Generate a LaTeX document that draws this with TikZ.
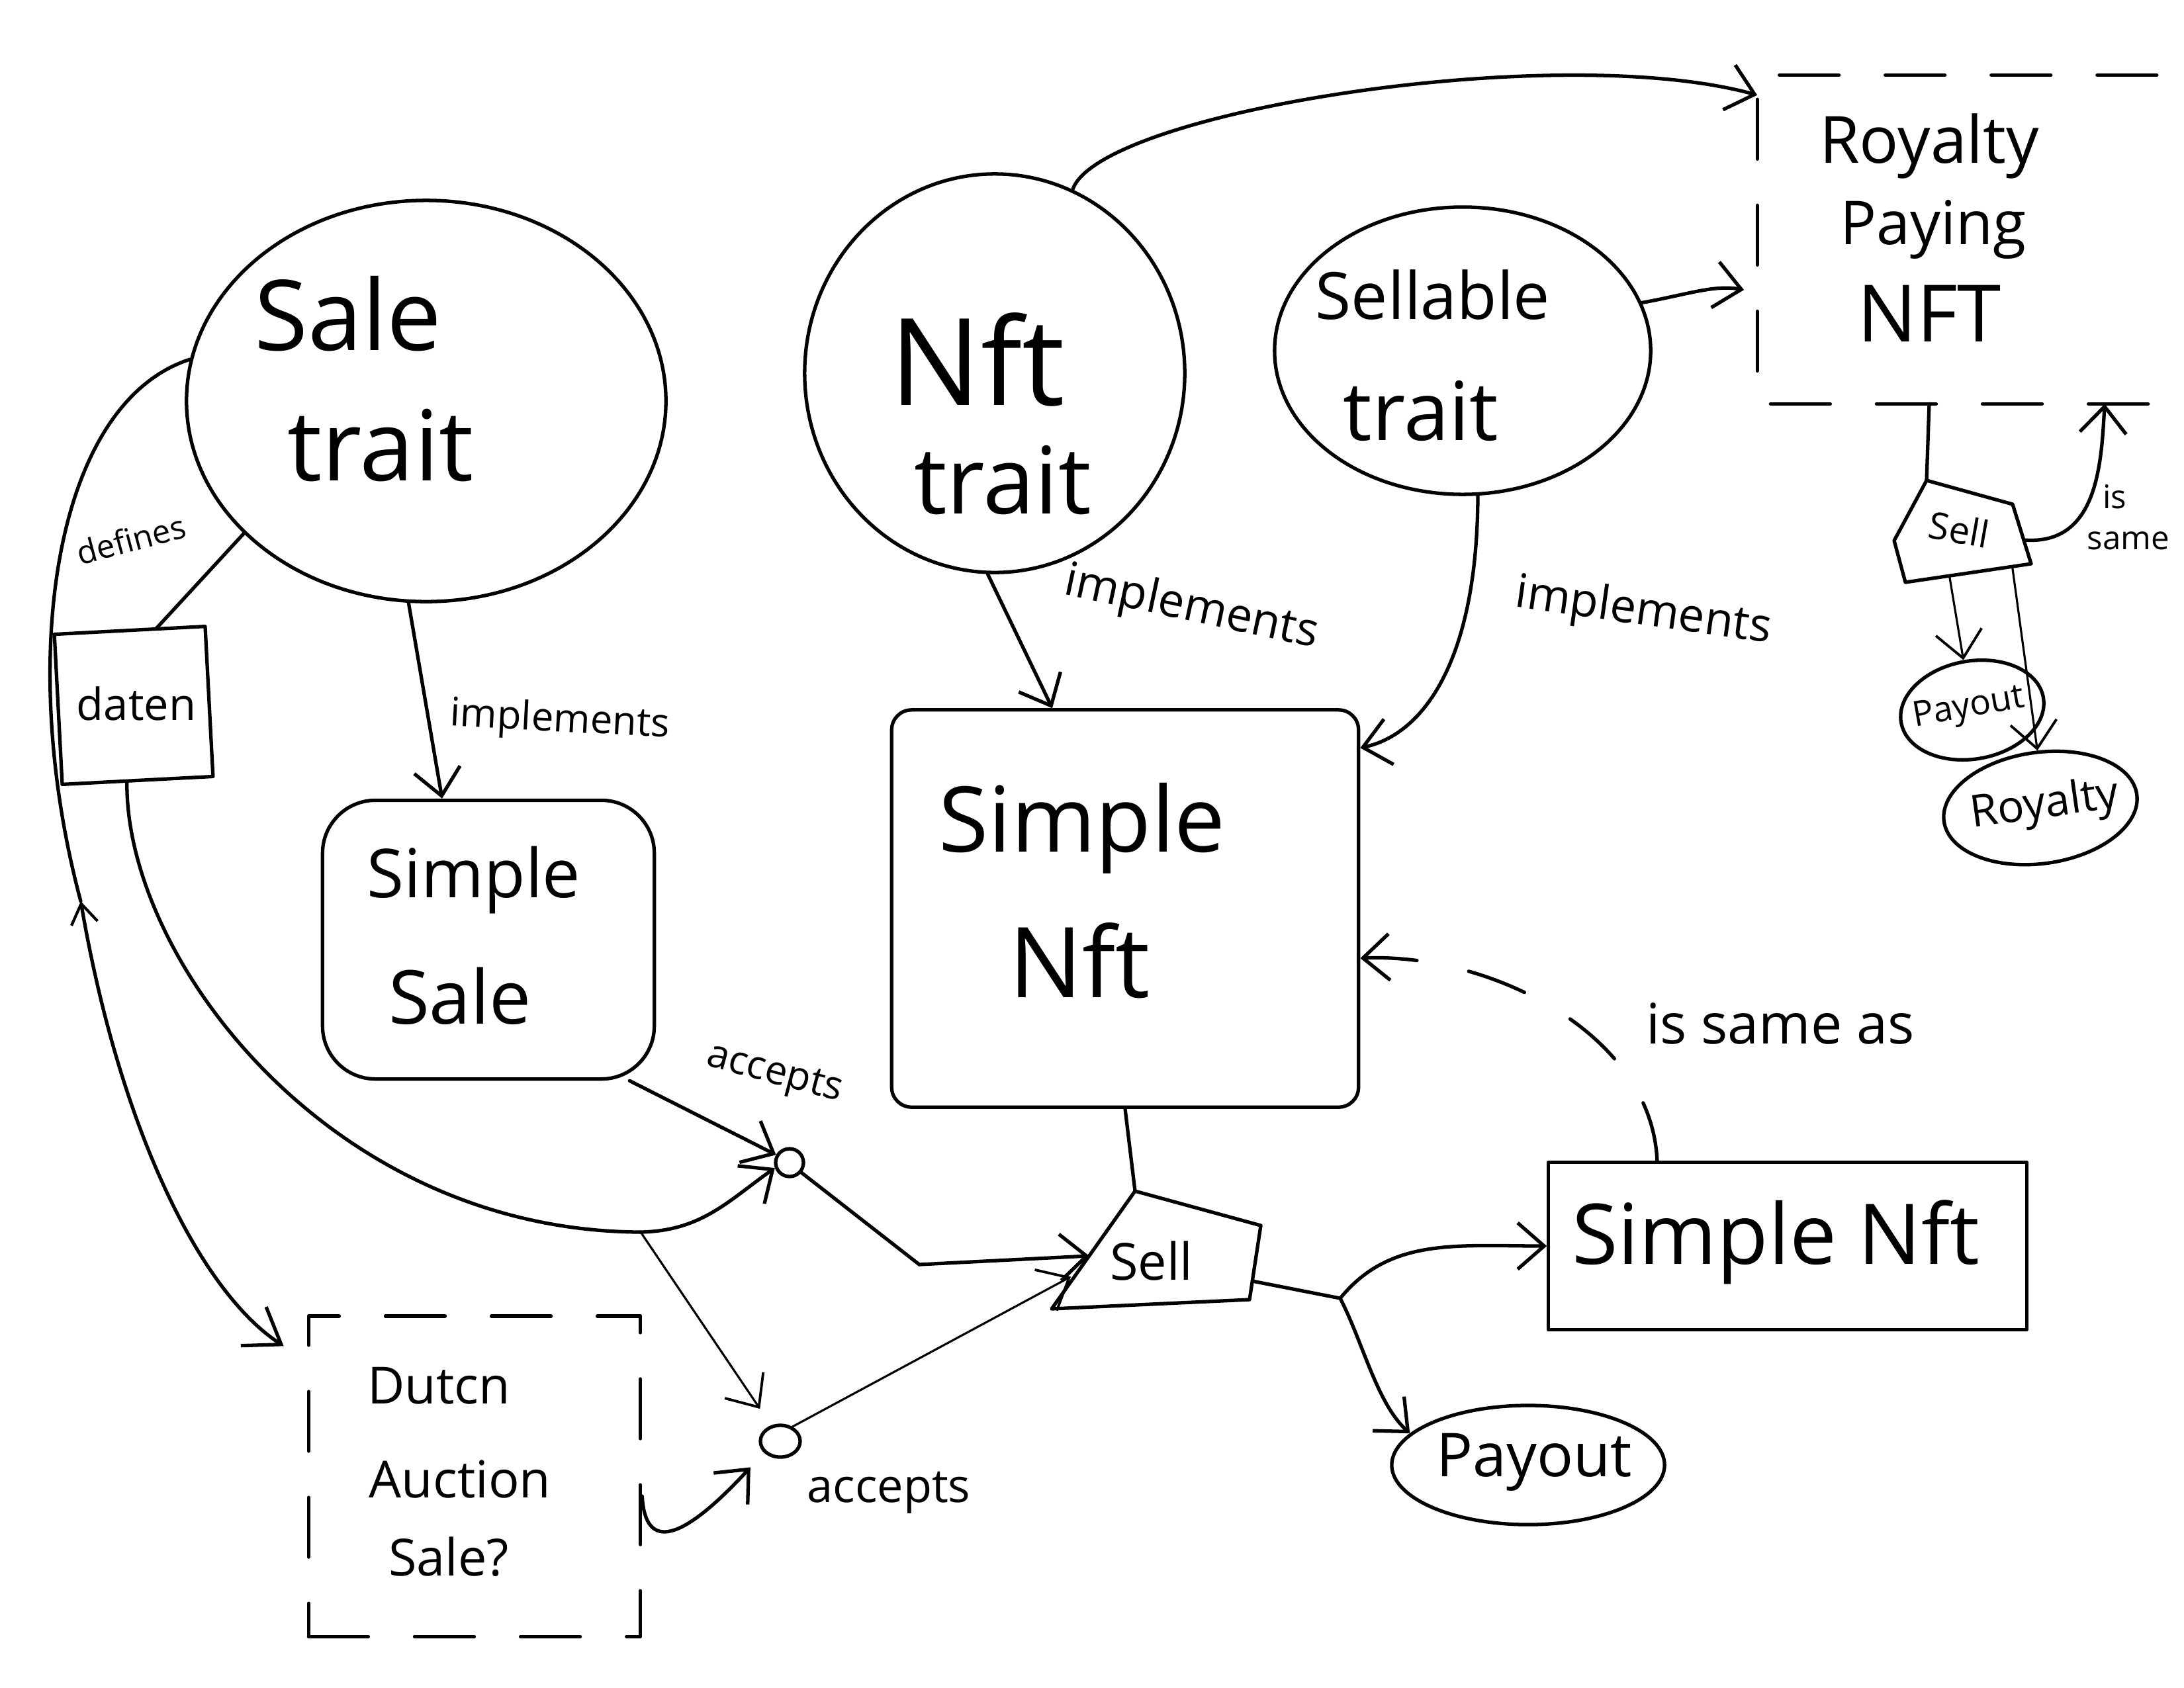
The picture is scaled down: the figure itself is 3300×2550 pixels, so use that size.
\documentclass[tikz,border=0pt]{standalone}
\usepackage{fontspec}
\setmainfont{Open Sans}
\usetikzlibrary{shapes.geometric,arrows.meta,calc}
\newcommand\myfs[1]{\fontsize{#1}{#1}\selectfont}
\tikzset{
  ln/.style={line width=1.5pt, line cap=round, line join=round},
  arr/.style={ln, -{Straight Barb[length=4mm,width=7mm,line width=1.5pt]}},
  thinarr/.style={line width=0.9pt, line cap=round, -{Straight Barb[length=4mm,width=7mm,line width=1.1pt]}},
  dsh/.style={ln, dash pattern=on 9mm off 7mm},
  blob/.style={ellipse, draw, ln, inner sep=0pt},
  box/.style={rectangle, draw, ln, inner sep=0pt},
  ghost/.style={rectangle, inner sep=0pt},
  txt/.style={inner sep=0pt, align=center}
}
\begin{document}
\begin{tikzpicture}[x=0.01cm,y=-0.01cm]
\useasboundingbox[fill=white] (0,0) rectangle (3300,2550);

% ---- main shapes ----
\node[blob, minimum width=72.4mm, minimum height=60.6mm] (saletrait) at (644,606) {};
\node[blob, minimum width=57.4mm, minimum height=60.2mm] (nfttrait) at (1503,564) {};
\node[blob, minimum width=56.8mm, minimum height=43.4mm] (sellable) at (2210,530) {};
\node[ghost, minimum width=60.2mm, minimum height=49.5mm] (rbox) at (2957,362) {};
\node[box, rotate=3, minimum width=22.8mm, minimum height=22.7mm] (chooser) at (202,1066) {};
\node[box, rounded corners=8mm, minimum width=50.1mm, minimum height=42.1mm] (simplesale) at (738,1420) {};
\node[box, rounded corners=3mm, minimum width=70.5mm, minimum height=60mm] (simplenft) at (1700,1373) {};
\node[box, minimum width=72.2mm, minimum height=25.3mm] (snft2) at (2701,1883) {};
\node[blob, minimum width=41.2mm, minimum height=18mm] (pay) at (2309,2214) {};
\node[box, dsh, minimum width=50.1mm, minimum height=48.4mm] (dutch) at (717,2231) {};
\node[circle, draw, ln, minimum size=4.2mm, inner sep=0pt] (acc1) at (1193,1757) {};
\node[ellipse, draw, ln, minimum width=6mm, minimum height=4.8mm, inner sep=0pt] (acc2) at (1179,2178) {};
\node[blob, rotate=10, minimum width=21.8mm, minimum height=14.8mm] (ps) at (2980,1073) {};
\node[blob, rotate=8, minimum width=29.4mm, minimum height=16.8mm] (rs) at (3083,1221) {};

% Royalty Paying NFT dashed (open on the right)
\draw[dsh] (rbox.north east) -- (rbox.north west) -- (rbox.south west) -- (rbox.south east);

% main Sell shape
\coordinate (s1) at (1715,1800);
\coordinate (s2) at (1905,1852);
\coordinate (s3) at (1888,1964);
\coordinate (s4) at (1589,1978);
\draw[ln] (s1) -- (s2) -- (s3) -- (s4) -- cycle;

% small Sell shape
\coordinate (ss1) at (2911,726);
\coordinate (ss2) at (3041,762);
\coordinate (ss3) at (3069,852);
\coordinate (ss4) at (2879,880);
\coordinate (ss5) at (2862,817);
\draw[ln] (ss1) -- (ss2) -- (ss3) -- (ss4) -- (ss5) -- cycle;

% ---- texts ----
\node[txt, font=\myfs{42}] (t1) at (526,474) {Sale};
\node[txt, font=\myfs{42}] (t2) at (575,673) {trait};
\node[txt, font=\myfs{52}] (t3) at (1477,543) {Nft};
\node[txt, font=\myfs{40}] (t4) at (1515,726) {trait};
\node[txt, font=\myfs{28}] (t5) at (2165,446) {Sellable};
\node[txt, font=\myfs{35}] (t6) at (2147,621) {trait};
\node[txt, font=\myfs{28}] (t7) at (2915,221) {Royalty};
\node[txt, font=\myfs{26}] (t8) at (2921,347) {Paying};
\node[txt, font=\myfs{34}] (t9) at (2915,474) {NFT};
\node[txt, font=\myfs{29}] (t10) at (716,1330) {Simple};
\node[txt, font=\myfs{32}] (t11) at (695,1505) {Sale};
\node[txt, font=\myfs{39}] (t12) at (1635,1252) {Simple};
\node[txt, font=\myfs{42}] (t13) at (1631,1452) {Nft};
\node[txt, font=\myfs{22}] (t14) at (1740,1905) {Sell};
\node[txt, font=\myfs{36}] (t15) at (2683,1877) {Simple Nft};
\node[txt, font=\myfs{26}] (t16) at (2318,2210) {Payout};
\node[txt, font=\myfs{22}] (t17) at (663,2094) {Dutcn};
\node[txt, font=\myfs{22}] (t18) at (695,2235) {Auction};
\node[txt, font=\myfs{22}] (t19) at (678,2353) {Sale?};
\node[txt, font=\myfs{16}, rotate=-10] (t20) at (2960,800) {Sell};
\node[txt, font=\myfs{15}, rotate=10] (t21) at (2975,1071) {Payout};
\node[txt, font=\myfs{19}, rotate=8] (t22) at (3090,1218) {Royalty};
\node[txt, font=\myfs{19}] (t23) at (206,1063) {daten};
\node[txt, font=\myfs{14}, rotate=15] (l1) at (198,815) {defines};
\node[txt, font=\myfs{17}, rotate=-3] (l2) at (846,1090) {implements};
\node[txt, font=\myfs{20}, rotate=-12] (l3) at (1800,920) {implements};
\node[txt, font=\myfs{20}, rotate=-8] (l4) at (2483,926) {implements};
\node[txt, font=\myfs{17}, rotate=-15] (l5) at (1170,1625) {accepts};
\node[txt, font=\myfs{20}] (l6) at (1343,2256) {accepts};
\node[txt, font=\myfs{24}] (l7) at (2690,1547) {is same as};
\node[txt, font=\myfs{14}] (l8) at (3195,751) {is};
\node[txt, font=\myfs{14}] (l9) at (3216,817) {same};

% ---- connectors ----
% implements arrows
\draw[arr] (saletrait.-95) -- ([xshift=-7mm]simplesale.north);
\draw[arr] (nfttrait.-92) -- ([xshift=-11mm]simplenft.north);
\draw[arr] (sellable.-84) .. controls (2232,1000) and (2150,1110) .. ([yshift=-6mm]simplenft.north east);
% to Royalty Paying NFT
\draw[arr] (nfttrait.67) .. controls (1660,170) and (2350,60) .. ([yshift=-3mm]rbox.north west);
\draw[arr] (sellable.15) .. controls (2550,445) and (2590,430) .. ([shift={(-2mm,-7.6mm)}]rbox.west);
% defines -> chooser
\draw[ln] (saletrait.-144) -- ([xshift=4mm]chooser.north);
% long left curve to Dutch Auction Sale
\coordinate (lm) at (122,1362);
\draw[ln] (saletrait.170) .. controls (80,610) and (25,1000) .. (lm);
\draw[ln, {Straight Barb[length=3mm,width=4mm,line width=1.2pt]}-{Straight Barb[length=5mm,width=7mm,line width=1.5pt]}] (lm) .. controls (180,1700) and (300,1950) .. ([shift={(-3.5mm,-4.8mm)}]dutch.north west);
% chooser -> accepts
\coordinate (j1) at (968,1862);
\draw[ln] (chooser.-98) .. controls (190,1450) and (500,1860) .. (j1);
\draw[arr] (j1) .. controls (1060,1860) and (1100,1815) .. (acc1.200);
\draw[thinarr, shorten >=3mm] (j1) -- (acc2.120);
% simple sale -> accepts
\draw[arr] (simplesale.-45) -- (acc1.150);
% accepts -> sell
\coordinate (b1) at (1389,1911);
\draw[ln] (acc1.-40) -- (b1);
\draw[arr] (b1) -- ($(s1)!0.55!(s4)$);
\draw[thinarr, shorten >=1mm] (acc2.50) -- ($(s1)!0.7!(s4)$);
% Dutch -> accepts
\draw[arr, shorten >=3mm] ([yshift=-3mm]dutch.east) .. controls (975,2345) and (1030,2330) .. (acc2.215);
% simple nft -> sell
\draw[ln] (simplenft.south) -- (s1);
% sell -> simple nft / payout
\coordinate (j2) at (2025,1962);
\draw[ln] ($(s2)!0.75!(s3)$) -- (j2);
\draw[arr] (j2) .. controls (2100,1870) and (2200,1883) .. (snft2.west);
\draw[arr] (j2) .. controls (2060,2030) and (2080,2120) .. (pay.165);
% is same as (dashed)
\draw[arr, dash pattern=on 9mm off 8mm] ([xshift=-19.7mm]snft2.north) .. controls (2495,1560) and (2250,1440) .. ([yshift=-7.5mm]simplenft.east);
% right panel
\draw[ln] ([xshift=-4.2mm]rbox.south) -- (ss1);
\draw[arr] ($(ss2)!0.6!(ss3)$) .. controls (3170,825) and (3175,700) .. ([xshift=22.3mm]rbox.south);
\draw[thinarr] ($(ss4)!0.35!(ss3)$) -- (ps.north);
\draw[thinarr] ($(ss4)!0.85!(ss3)$) -- (rs.85);
\end{tikzpicture}
\end{document}
